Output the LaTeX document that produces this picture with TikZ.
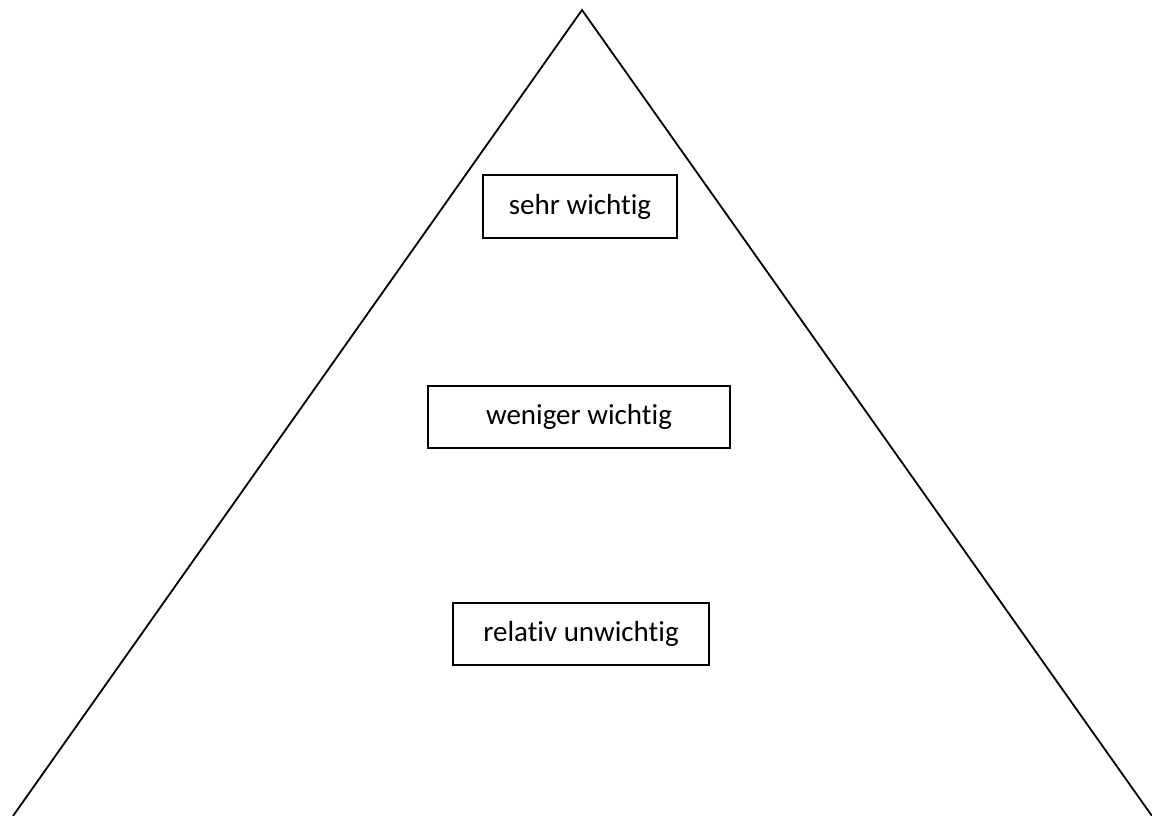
\documentclass[tikz,border=0pt]{standalone}
\usepackage{fontspec}
\setmainfont{Carlito}[Ligatures=NoCommon]
\begin{document}
\begin{tikzpicture}[x=1pt, y=-1pt,
    levelbox/.style={draw, line width=1.6pt, inner sep=0pt, font=\fontsize{29}{34}\selectfont}]
    % Canvas
    \useasboundingbox (0,0) rectangle (1152,816);

    % Pyramid
    \coordinate (top) at (582,10);
    \coordinate (left) at (13,816);
    \coordinate (right) at (1152,816);
    \draw[line width=1.8pt, line join=miter] (left) -- (top) -- (right);

    % Levels
    \node[levelbox, minimum width=194pt, minimum height=63pt] (sehr) at (580,206.5) {sehr wichtig};
    \node[levelbox, minimum width=302pt, minimum height=62pt] (weniger) at (579,417) {weniger wichtig};
    \node[levelbox, minimum width=256pt, minimum height=62pt] (relativ) at (581,634) {relativ unwichtig};

\end{tikzpicture}
\end{document}
